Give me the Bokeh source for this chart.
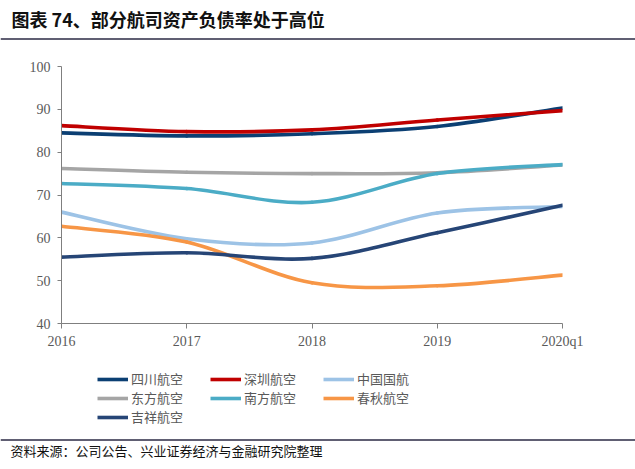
from bokeh.plotting import figure
from bokeh.models import Range1d, FixedTicker, Legend, LegendItem
from bokeh.layouts import column
from bokeh.core.properties import value
from bokeh.embed import file_html
from bokeh.resources import INLINE

# ---- data (asset-liability ratio, %) ----
periods = ["2016", "2017", "2018", "2019", "2020q1"]
sichuan = [84.5, 83.8, 84.3, 86.0, 90.3]
shenzhen = [86.2, 84.8, 85.2, 87.5, 89.7]
airchina = [66.0, 59.8, 58.8, 65.8, 67.3]
eastern = [76.2, 75.3, 75.0, 75.2, 77.0]
southern = [72.7, 71.5, 68.3, 75.0, 77.1]
spring = [62.7, 59.0, 49.5, 48.8, 51.3]
juneyao = [55.5, 56.5, 55.2, 61.2, 67.6]

names = ["四川航空", "深圳航空", "中国国航", "东方航空", "南方航空", "春秋航空", "吉祥航空"]
series = [sichuan, shenzhen, airchina, eastern, southern, spring, juneyao]
colors = ["#0B3F73", "#C00000", "#9DC3E6", "#A5A5A5", "#4BACC6", "#F79646", "#264576"]

title_text = "图表 74、部分航司资产负债率处于高位"
source_text = "资料来源：公司公告、兴业证券经济与金融研究院整理"

W = 635
CJK = "Noto Sans CJK SC"
SERIF = "Liberation Serif"
RULE = "#2B2A45"
LW = 3.6


def blank(h):
    # plain pixel-space canvas (no axes), y grows downward
    f = figure(width=W, height=h, x_range=Range1d(0, W), y_range=Range1d(h, 0),
               x_axis_location=None, y_axis_location=None, frame_align=False,
               toolbar_location=None, output_backend="svg", min_border=0)
    f.grid.visible = False
    f.outline_line_color = None
    return f


def smooth(ys):
    # excel style smoothed line -> cubic bezier pieces between the data points
    n = len(ys)
    xs = list(range(n))
    x0, y0, x1, y1, cx0, cy0, cx1, cy1 = [], [], [], [], [], [], [], []
    for i in range(n - 1):
        a = max(i - 1, 0)
        b = min(i + 2, n - 1)
        x0.append(xs[i]); y0.append(ys[i])
        x1.append(xs[i + 1]); y1.append(ys[i + 1])
        cx0.append(xs[i] + (xs[i + 1] - xs[a]) / 6)
        cy0.append(ys[i] + (ys[i + 1] - ys[a]) / 6)
        cx1.append(xs[i + 1] - (xs[b] - xs[i]) / 6)
        cy1.append(ys[i + 1] - (ys[b] - ys[i]) / 6)
    return dict(x0=x0, y0=y0, x1=x1, y1=y1, cx0=cx0, cy0=cy0, cx1=cx1, cy1=cy1)


# ---- header ----
head = blank(48)
head.text(x=[11], y=[18], text=[title_text], text_font=value(CJK),
          text_font_style="bold", text_font_size="18px", text_baseline="middle",
          text_color="#111111")
head.segment(x0=[0], y0=[38.5], x1=[W], y1=[38.5], line_color=RULE, line_width=1.6)

# ---- main chart ----
p = figure(width=W, height=322, x_range=Range1d(0, len(periods) - 1),
           y_range=Range1d(40, 100), toolbar_location=None, output_backend="svg",
           frame_align=False,
           min_border_left=61, min_border_right=73, min_border_top=18,
           min_border_bottom=47)
p.grid.visible = False
p.outline_line_color = None

for ys, c in zip(series, colors):
    p.bezier(line_color=c, line_width=LW, line_cap="round", **smooth(ys))

p.xaxis.ticker = FixedTicker(ticks=list(range(len(periods))))
p.xaxis.major_label_overrides = {i: lab for i, lab in enumerate(periods)}
p.yaxis.ticker = FixedTicker(ticks=list(range(40, 101, 10)))
for ax in (p.xaxis, p.yaxis):
    ax.axis_line_color = "#7F7F7F"
    ax.major_tick_line_color = "#7F7F7F"
    ax.minor_tick_line_color = None
    ax.major_tick_in = 0
    ax.major_label_text_font = SERIF
    ax.major_label_text_font_size = "14px"
    ax.major_label_text_color = "#595959"
p.xaxis.major_tick_out = 5
p.xaxis.major_label_standoff = 5
p.yaxis.major_tick_out = 4
p.yaxis.major_label_standoff = 7

# ---- footer: legend key, rule and source note ----
foot = blank(99)
# hidden copies of the series, only used to give the legend its line keys
keys = [foot.line(x=list(range(len(ys))), y=ys, line_color=c, line_width=LW,
                  visible=False) for ys, c in zip(series, colors)]
legend = Legend(
    items=[LegendItem(label=n, renderers=[r]) for n, r in zip(names, keys)],
    location=(97, 43), orientation="horizontal", ncols=3,
    glyph_width=31, glyph_height=16, label_height=16, label_width=79,
    label_standoff=3, spacing=0, padding=0, margin=0,
    label_text_font=CJK, label_text_font_size="13px", label_text_color="#595959",
    background_fill_alpha=0, border_line_color=None,
    inactive_fill_alpha=0, click_policy="none",
)
foot.add_layout(legend)
foot.segment(x0=[0], y0=[69.5], x1=[W], y1=[69.5], line_color=RULE, line_width=1.6)
foot.text(x=[10], y=[80], text=[source_text], text_font=value(CJK),
          text_font_size="13px", text_baseline="middle", text_color="#111111")

layout = column(head, p, foot, spacing=0)
open("out.html", "w").write(file_html(layout, INLINE))
